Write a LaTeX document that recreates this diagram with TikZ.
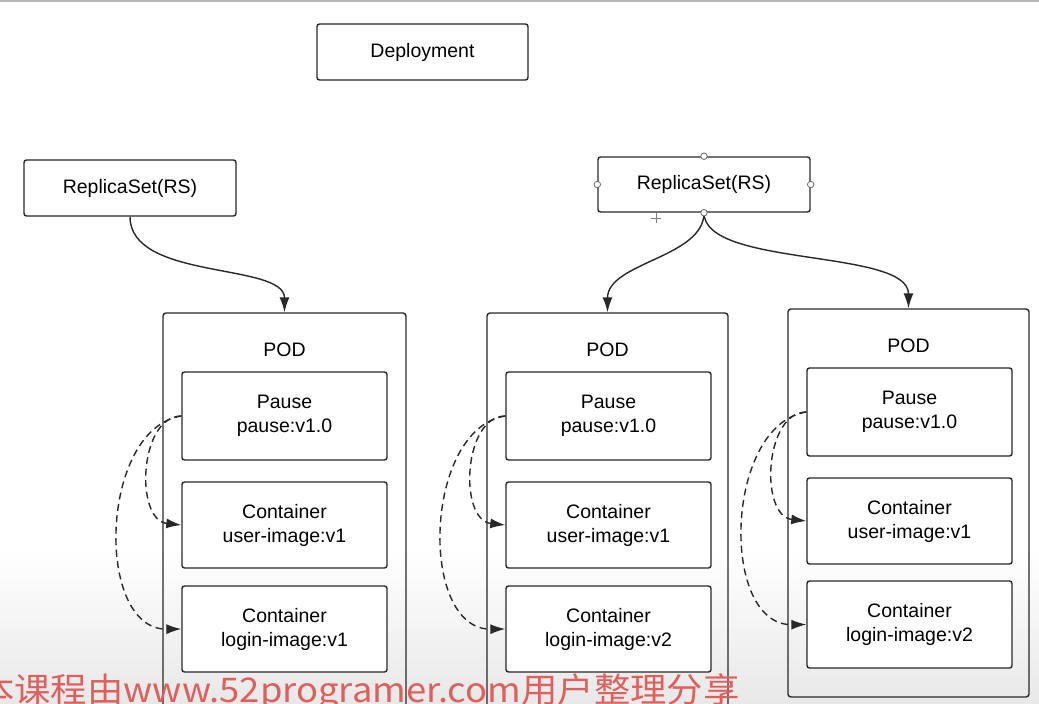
\documentclass[tikz,border=0pt]{standalone}
\usepackage{fontspec}
\setmainfont{Liberation Sans}
\newfontfamily\cjk{Noto Sans CJK SC}
\usetikzlibrary{arrows.meta}
\definecolor{ln}{RGB}{40,40,40}
\definecolor{wm}{RGB}{222,96,92}
\tikzset{
  box/.style={draw=ln, line width=1.4pt, rounded corners=2.5pt, fill=white, align=center,
    inner sep=0pt, font=\fontsize{19.5}{24}\selectfont},
  podbox/.style={draw=ln, line width=1.4pt, rounded corners=3pt, inner sep=0pt},
  lbl/.style={font=\fontsize{19.5}{24}\selectfont},
  conn/.style={draw=ln, line width=1.4pt, -{Latex[length=15pt,width=10pt]}},
  dconn/.style={conn, dash pattern=on 7pt off 4.5pt},
  handle/.style={circle, draw=ln!70, fill=white, line width=0.8pt, minimum size=6.5pt, inner sep=0pt}
}
\begin{document}
\begin{tikzpicture}[x=1pt,y=-1pt]
\useasboundingbox (0,0) rectangle (1039,704);
\clip (0,0) rectangle (1039,704);
\fill[white] (0,0) rectangle (1039,704);
\shade[top color=white, bottom color=black!9] (0,550) rectangle (1039,704);
\fill[black!28] (0,0) rectangle (1039,1.5);

% top level
\node[box, minimum width=211pt, minimum height=56pt] (dep) at (422.5,52) {Deployment};
\node[box, minimum width=212pt, minimum height=56pt] (rs1) at (130,188) {ReplicaSet(RS)};
\node[box, minimum width=212pt, minimum height=55pt] (rs2) at (704,184.5) {ReplicaSet(RS)};

% pods
\node[podbox, minimum width=243pt, minimum height=406pt] (pod1) at (284.5,516) {};
\node[podbox, minimum width=241pt, minimum height=406pt] (pod2) at (607.5,516) {};
\node[podbox, minimum width=241pt, minimum height=388pt] (pod3) at (908.5,503) {};
\node[lbl] (t1) at (284.5,350) {POD};
\node[lbl] (t2) at (607.5,350) {POD};
\node[lbl] (t3) at (908.5,346) {POD};

% containers pod1
\node[box, minimum width=205pt, minimum height=88pt] (p1) at (284.5,416) {Pause\\pause:v1.0};
\node[box, minimum width=205pt, minimum height=86pt] (a1) at (284.5,525) {Container\\user-image:v1};
\node[box, minimum width=205pt, minimum height=86pt] (b1) at (284.5,629) {Container\\login-image:v1};
% pod2
\node[box, minimum width=205pt, minimum height=88pt] (p2) at (608.5,416) {Pause\\pause:v1.0};
\node[box, minimum width=205pt, minimum height=86pt] (a2) at (608.5,525) {Container\\user-image:v1};
\node[box, minimum width=205pt, minimum height=86pt] (b2) at (608.5,629) {Container\\login-image:v2};
% pod3
\node[box, minimum width=205pt, minimum height=88pt] (p3) at (909.5,412) {Pause\\pause:v1.0};
\node[box, minimum width=205pt, minimum height=86pt] (a3) at (909.5,521) {Container\\user-image:v1};
\node[box, minimum width=205pt, minimum height=87pt] (b3) at (909.5,624.5) {Container\\login-image:v2};

% RS -> POD arrows
\draw[conn] (rs1.south) .. controls +(0,64) and +(0,-50) .. (pod1.north);
\draw[conn] (rs2.south) .. controls +(0,45) and +(0,-50) .. (pod2.north);
\draw[conn] (rs2.south) .. controls +(0,55) and +(0,-60) .. (pod3.north);

% dashed arrows
\foreach \p/\a/\b in {p1/a1/b1, p2/a2/b2, p3/a3/b3}{
  \draw[dconn] (\p.west) .. controls +(-42,0) and +(-47,-5) .. (\a.west);
  \draw[dconn] (\p.west) .. controls +(-82,13) and +(-87,1) .. (\b.west);
}

% selection handles
\node[handle] (h1) at (rs2.north) {};
\node[handle] (h2) at (rs2.west) {};
\node[handle] (h3) at (rs2.east) {};
\node[handle] (h4) at (rs2.south) {};
\draw[ln!60, line width=0.7pt] (651,218) -- (661,218) (656,213) -- (656,223);

% watermark
\node[anchor=base west, inner sep=0pt, text=wm, xscale=1.07, font=\cjk\fontsize{34}{34}\selectfont] (wmk) at (-22,702) {本课程由www.52programer.com用户整理分享};
\end{tikzpicture}
\end{document}
